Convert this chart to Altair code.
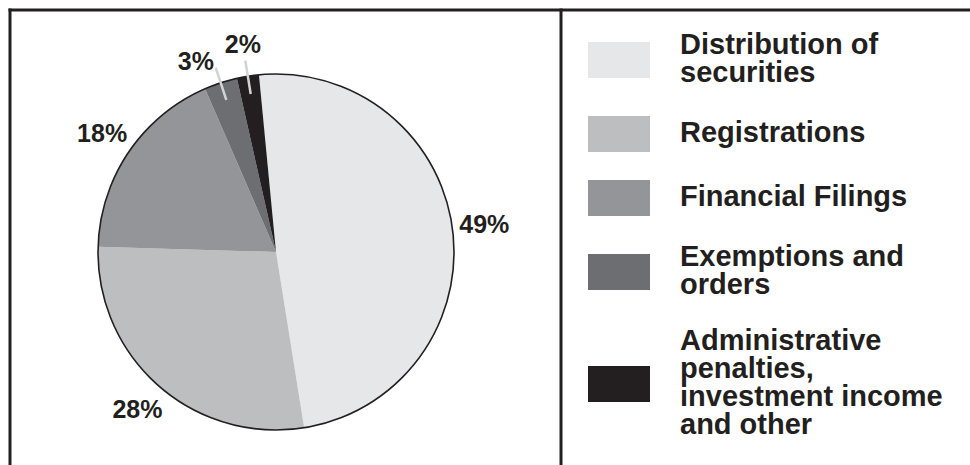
import math

import altair as alt
import pandas as pd

# ---------------- data ----------------
categories = [
    "Distribution of securities",
    "Registrations",
    "Financial Filings",
    "Exemptions and orders",
    "Administrative penalties, investment income and other",
]
legend_lines = [
    ["Distribution of", "securities"],
    ["Registrations"],
    ["Financial Filings"],
    ["Exemptions and", "orders"],
    ["Administrative", "penalties,", "investment income", "and other"],
]
shares = [49, 28, 18, 3, 2]
pct_labels = ["49%", "28%", "18%", "3%", "2%"]
leader_categories = ["Exemptions and orders",
                     "Administrative penalties, investment income and other"]
right_aligned_label_categories = ["Exemptions and orders"]

colors = ["#e6e7e8", "#bcbec0", "#939598", "#6d6e71", "#231f20"]
INK = "#231f20"
FONT = "Liberation Sans"

# ---------------- layout ----------------
W, H = 970, 465
CX, CY, R = 276, 252, 178
START = -0.096          # rotation of first slice (radians)
LEG_FS, LH = 29, 28     # legend font size / line height
SW_X, SW_W, SW_H = 588, 62, 36
TXT_X = 680
LEG_TOP, GAP = 32, 28

starts, ends, mids = [], [], []
acc = 0.0
for s in shares:
    starts.append(acc)
    ends.append(acc + s)
    mids.append(acc + s / 2)
    acc += s

df = pd.DataFrame({
    "category": categories,
    "share": shares,
    "start": starts,
    "end": ends,
    "mid": mids,
    "label": pct_labels,
    "order": list(range(len(categories))),
})
df["leader"] = df["category"].isin(leader_categories)
df["right_label"] = df["category"].isin(right_aligned_label_categories)

# legend rows: stacked blocks, each as tall as its text (or swatch)
row_centers = []
y = LEG_TOP
for lines in legend_lines:
    h = max(SW_H, len(lines) * LH)
    row_centers.append(y + h / 2)
    y += h + GAP

leg_df = pd.DataFrame({
    "category": categories,
    "lines": legend_lines,
    "nlines": [len(l) for l in legend_lines],
    "center": row_centers,
})

theta_scale = alt.Scale(domain=[0, sum(shares)], range=[START, START + 2 * math.pi])
color_scale = alt.Scale(domain=categories, range=colors)

pie = alt.Chart(df).mark_arc(x=CX, y=CY, radius=R).encode(
    theta=alt.Theta("start:Q", scale=theta_scale),
    theta2="end:Q",
    color=alt.Color("category:N", scale=color_scale, legend=None),
    order=alt.Order("order:Q"),
)

outline = alt.Chart(pd.DataFrame({"k": [0]})).mark_arc(
    x=CX, y=CY, radius=R, theta=0, theta2=2 * math.pi,
    fillOpacity=0, stroke=INK, strokeWidth=1.6,
).encode(opacity=alt.value(1))

leaders = alt.Chart(df).transform_filter("datum.leader").mark_arc(
    x=CX, y=CY, innerRadius=160, radius=194,
    fillOpacity=0, stroke="#d1d3d4", strokeWidth=2.5,
).encode(
    theta=alt.Theta("mid:Q", scale=theta_scale),
    theta2="mid:Q",
)

text_style = dict(x=CX, y=CY, font=FONT, fontWeight="bold", fontSize=25,
                  color=INK, baseline="middle")

labels_center = alt.Chart(df).transform_filter("!datum.right_label").mark_text(
    radius=210, align="center", **text_style
).encode(
    theta=alt.Theta("mid:Q", scale=theta_scale),
    text="label:N",
)

labels_right = alt.Chart(df).transform_filter("datum.right_label").mark_text(
    radius=200, align="right", **text_style
).encode(
    theta=alt.Theta("mid:Q", scale=theta_scale),
    text="label:N",
)

# ---- legend (drawn manually so that multi-line labels are centred) ----
swatches = alt.Chart(leg_df).transform_calculate(
    top=f"datum.center - {SW_H / 2}",
    bot=f"datum.center + {SW_H / 2}",
).mark_rect().encode(
    x=alt.value(SW_X), x2=alt.value(SW_X + SW_W),
    y=alt.Y("top:Q", scale=None, axis=None),
    y2="bot:Q",
    color=alt.Color("category:N", scale=color_scale, legend=None),
)

leg_text = alt.Chart(leg_df).transform_calculate(
    ttop=f"datum.center - datum.nlines * {LH / 2}",
).mark_text(
    align="left", baseline="line-top", lineHeight=LH,
    font=FONT, fontWeight="bold", fontSize=LEG_FS, color=INK,
).encode(
    x=alt.value(TXT_X),
    y=alt.Y("ttop:Q", scale=None, axis=None),
    text="lines",
)

frame_df = pd.DataFrame({"k": [0]})
top_rule = alt.Chart(frame_df).mark_rule(color=INK, strokeWidth=3).encode(
    x=alt.value(8.5), x2=alt.value(W), y=alt.value(10), y2=alt.value(10))
left_rule = alt.Chart(frame_df).mark_rule(color=INK, strokeWidth=3).encode(
    x=alt.value(10), x2=alt.value(10), y=alt.value(8.5), y2=alt.value(H))
mid_rule = alt.Chart(frame_df).mark_rule(color=INK, strokeWidth=3).encode(
    x=alt.value(561), x2=alt.value(561), y=alt.value(8.5), y2=alt.value(H))

chart = alt.layer(
    pie, outline, leaders, labels_center, labels_right,
    swatches, leg_text, top_rule, left_rule, mid_rule
).properties(
    width=W, height=H, padding=0, background="white",
    autosize=alt.AutoSizeParams(type="none"),
).configure_view(
    stroke=None
)

chart.save("out.html", embed_options={"renderer": "svg", "actions": False})
